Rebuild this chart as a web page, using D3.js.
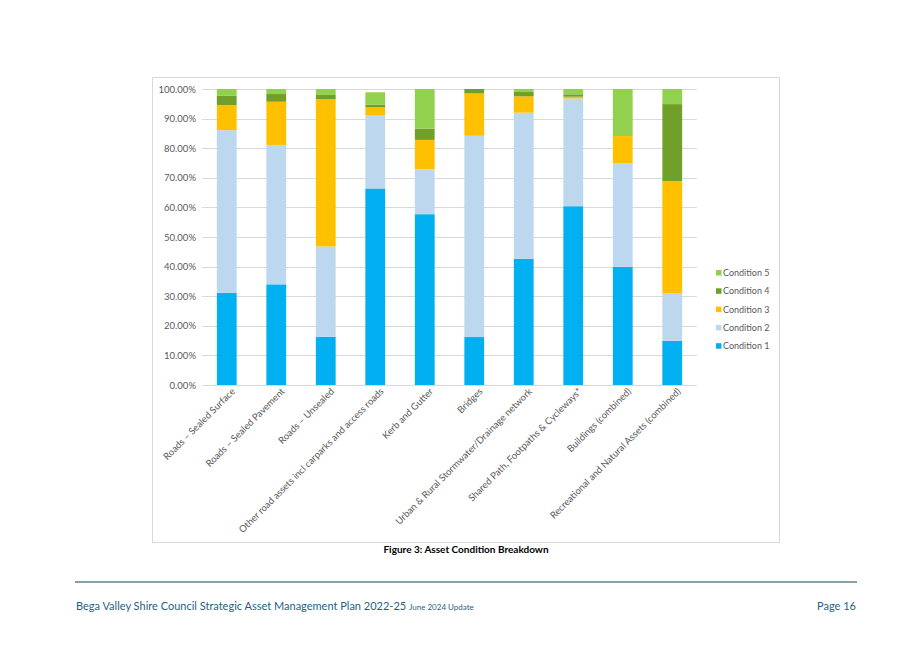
<!DOCTYPE html>
<html><head><meta charset="utf-8">
<script src="https://cdn.jsdelivr.net/npm/d3@7"></script>
<style>body{margin:0;background:#fff;} svg{display:block;font-family:Lato,"Open Sans",sans-serif;}</style>
</head><body>
<svg id="c" width="917" height="649"></svg>
<script>
const categories = ["Roads \u2013 Sealed Surface","Roads \u2013 Sealed Pavement","Roads \u2013 Unsealed","Other road assets incl carparks and access roads","Kerb and Gutter","Bridges","Urban & Rural Stormwater/Drainage network","Shared Path, Footpaths & Cycleways*","Buildings (combined)","Recreational and Natural Assets (combined)"];
const condition1 = [31.1,34.0,16.3,66.4,57.7,16.2,42.6,60.4,39.9,14.9];
const condition2 = [55.0,47.1,30.5,24.6,15.2,68.0,49.4,36.4,35.0,16.0];
const condition3 = [8.5,14.6,49.8,2.8,9.9,14.3,5.5,0.6,9.2,38.0];
const condition4 = [3.1,2.6,1.4,0.9,3.8,1.5,1.5,0.8,0.0,26.0];
const condition5 = [2.3,1.7,2.0,4.2,13.4,0.0,1.0,1.8,15.9,5.1];
const seriesNames = ["Condition 1","Condition 2","Condition 3","Condition 4","Condition 5"];
const colors = ["#00b0f0","#bdd7ee","#ffc000","#70a02a","#92d050"];
const yTicks = [0,10,20,30,40,50,60,70,80,90,100];

const rows = categories.map((c,i)=>({cat:c,"Condition 1":condition1[i],"Condition 2":condition2[i],"Condition 3":condition3[i],"Condition 4":condition4[i],"Condition 5":condition5[i]}));
const stack = d3.stack().keys(seriesNames)(rows);

const svg = d3.select("#c");
svg.append("rect").attr("x",152.5).attr("y",77.5).attr("width",627).attr("height",465)
  .attr("fill","none").attr("stroke","#d9d9d9").attr("stroke-width",1);

const x = d3.scaleBand().domain(categories).range([202,697]).paddingInner(0.6).paddingOuter(0.3);
const y = d3.scaleLinear().domain([0,100]).range([385,89]);

svg.append("g").selectAll("line").data(yTicks).join("line")
  .attr("x1",202).attr("x2",697).attr("y1",d=>Math.round(y(d))+0.5).attr("y2",d=>Math.round(y(d))+0.5)
  .attr("stroke","#d9d9d9").attr("stroke-width",1);

const yAxis = svg.append("g").attr("transform","translate(196,0)")
  .call(d3.axisLeft(y).tickValues(yTicks).tickSize(0).tickPadding(0).tickFormat(d=>d.toFixed(2)+"%"));
yAxis.select(".domain").remove();
yAxis.selectAll("text").attr("fill","#595959").attr("font-size","9.5px").attr("font-family","Lato,'Open Sans',sans-serif");

svg.append("g").selectAll("g").data(stack).join("g").attr("fill",(d,i)=>colors[i])
  .selectAll("rect").data(d=>d).join("rect")
  .attr("x",d=>x(d.data.cat)).attr("width",x.bandwidth())
  .attr("y",d=>y(d[1])).attr("height",d=>y(d[0])-y(d[1]));

const xAxis = svg.append("g").attr("transform","translate(0,385)")
  .call(d3.axisBottom(x).tickSize(0).tickPadding(0));
xAxis.select(".domain").remove();
xAxis.selectAll("text").attr("fill","#595959").attr("font-size","9.5px").attr("font-family","Lato,'Open Sans',sans-serif")
  .attr("text-anchor","end").attr("dy",0).attr("transform","translate(9,7) rotate(-45)");

const legend = svg.append("g");
const legendOrder = [4,3,2,1,0];
legendOrder.forEach((si,k)=>{
  const ly = 273 + k*18.3;
  legend.append("rect").attr("x",716).attr("y",ly-3).attr("width",5.5).attr("height",5.5).attr("fill",colors[si]);
  legend.append("text").attr("x",723).attr("y",ly).attr("dy","0.35em").attr("font-size","9px")
    .attr("fill","#595959").text(seriesNames[si]);
});

svg.append("text").attr("x",466).attr("y",553).attr("text-anchor","middle").attr("font-size","10px")
  .attr("font-weight","bold").attr("fill","#000").text("Figure 3: Asset Condition Breakdown");

svg.append("line").attr("x1",75).attr("x2",857).attr("y1",582).attr("y2",582).attr("stroke","#5e8294").attr("stroke-width",1.5);
const ft = svg.append("text").attr("x",76).attr("y",610).attr("fill","#1f5f7f").attr("font-size","11px");
ft.append("tspan").text("Bega Valley Shire Council Strategic Asset Management Plan 2022-25 ");
ft.append("tspan").attr("font-size","8px").text("June 2024 Update");
svg.append("text").attr("x",856).attr("y",610).attr("text-anchor","end").attr("fill","#1f5f7f").attr("font-size","11px").text("Page 16");
</script>
</body></html>
